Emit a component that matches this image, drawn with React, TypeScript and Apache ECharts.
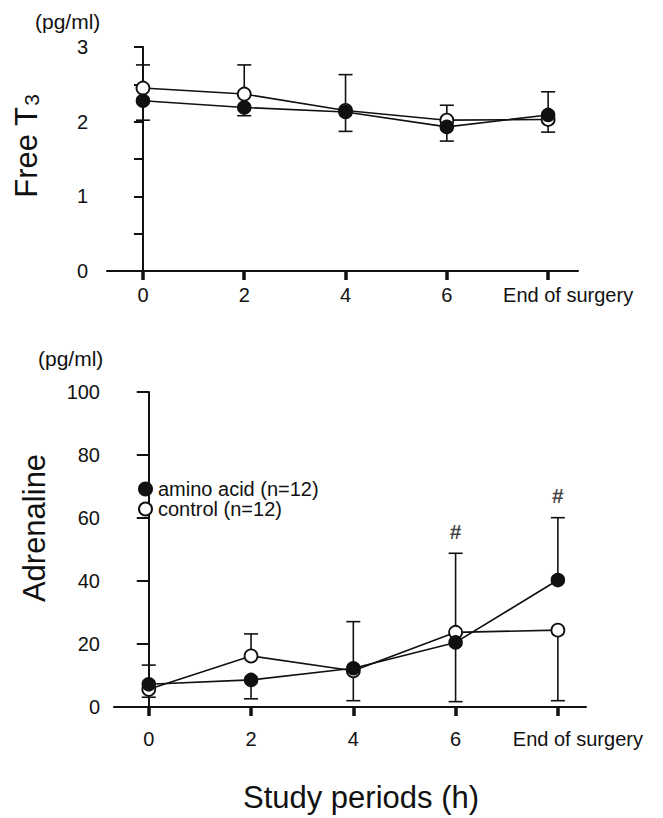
import React, { useEffect, useRef } from "react";
import * as echarts from "echarts";

const FONT = "'Liberation Sans', Arial, Helvetica, sans-serif";
const INK = "#111111";

// time points (h); "End of surgery" sits at position 8
const xPoints = [0, 2, 4, 6, 8];
const xTickLabels = ["0", "2", "4", "6", "End of surgery"];

// Free T3 (pg/ml)
const t3Amino = [2.28, 2.19, 2.13, 1.93, 2.09];
const t3Control = [2.45, 2.37, 2.15, 2.02, 2.03];
const t3AminoWhisker = [2.02, 2.08, 1.87, 1.74, 2.4];
const t3ControlWhisker = [2.76, 2.76, 2.63, 2.22, 1.86];

// Adrenaline (pg/ml)
const adAmino = [7.2, 8.6, 12.3, 20.5, 40.3];
const adControl = [5.6, 16.2, 11.5, 23.7, 24.4];
const adAminoWhisker = [13.3, 2.6, 27.1, 1.7, 60.1];
const adControlWhisker = [3.1, 23.2, 2.0, 48.8, 2.0];
const adSignificant = [false, false, false, true, true];

const AMINO = "amino acid (n=12)";
const CONTROL = "control (n=12)";

function errBars(means: number[], whiskers: number[]) {
  return xPoints.map((x, i) => [x, means[i], whiskers[i]]);
}

function pairs(vals: number[]) {
  return xPoints.map((x, i) => [x, vals[i]]);
}

const renderErr = (params: any, api: any) => {
  const x = api.value(0);
  const p1 = api.coord([x, api.value(1)]);
  const p2 = api.coord([x, api.value(2)]);
  const st = { stroke: INK, lineWidth: 1.6 };
  return {
    type: "group",
    children: [
      { type: "line", shape: { x1: p1[0], y1: p1[1], x2: p2[0], y2: p2[1] }, style: st },
      { type: "line", shape: { x1: p2[0] - 7, y1: p2[1], x2: p2[0] + 7, y2: p2[1] }, style: st },
    ],
  };
};

function xAxisCfg(gridIndex: number, min: number, max: number, margin: number) {
  return {
    type: "value",
    gridIndex,
    min,
    max,
    axisLine: { show: true, onZero: false, lineStyle: { color: INK, width: 2 } },
    axisTick: {
      show: true,
      customValues: xPoints,
      length: 9,
      lineStyle: { color: INK, width: 3.5 },
    },
    axisLabel: {
      customValues: xPoints,
      margin,
      fontSize: 20,
      fontFamily: FONT,
      color: INK,
      formatter: (v: number) => {
        const i = xPoints.indexOf(v);
        const t = i >= 0 ? xTickLabels[i] : "";
        return i === xPoints.length - 1 ? "{end|" + t + "}" : t;
      },
      rich: {
        end: { fontSize: 20, fontFamily: FONT, color: INK, padding: [0, 0, 0, 40] },
      },
    },
    splitLine: { show: false },
  };
}

function lineSeries(name: string, data: number[], idx: number, filled: boolean) {
  return {
    name,
    type: "line",
    xAxisIndex: idx,
    yAxisIndex: idx,
    data: pairs(data),
    symbol: "circle",
    symbolSize: 13,
    z: filled ? 4 : 3,
    lineStyle: { color: INK, width: 1.6 },
    itemStyle: filled
      ? { color: INK, borderColor: INK, borderWidth: 1.5 }
      : { color: "#ffffff", borderColor: INK, borderWidth: 1.8 },
  };
}

function errSeries(means: number[], whiskers: number[], idx: number) {
  return {
    type: "custom",
    xAxisIndex: idx,
    yAxisIndex: idx,
    data: errBars(means, whiskers),
    encode: { x: 0, y: [1, 2] },
    renderItem: renderErr,
    z: 1,
    silent: true,
  };
}

export default function App() {
  const ref = useRef<HTMLDivElement>(null);
  useEffect(() => {
    document.body.style.margin = "0";
    if (!ref.current) return;
    const chart = echarts.init(ref.current, undefined, { renderer: "svg" });

    const sigData = xPoints
      .map((x, i) => [x, Math.max(adAminoWhisker[i], adControlWhisker[i], adAmino[i], adControl[i]), adSignificant[i]])
      .filter((d) => d[2])
      .map((d) => [d[0], d[1]]);

    chart.setOption({
      animation: false,
      backgroundColor: "#ffffff",
      textStyle: { fontFamily: FONT },
      grid: [
        { left: 107, top: 47, width: 471, height: 224 },
        { left: 114, top: 392, width: 472, height: 315 },
      ],
      xAxis: [xAxisCfg(0, -0.71, 8.59, 14), xAxisCfg(1, -0.68, 8.55, 22)],
      yAxis: [
        {
          type: "value",
          gridIndex: 0,
          min: 0,
          max: 3,
          interval: 0.5,
          axisLine: { show: true, lineStyle: { color: INK, width: 2 } },
          axisTick: { show: true, length: 9, lineStyle: { color: INK, width: 2 } },
          axisLabel: {
            margin: 19,
            fontSize: 20,
            fontFamily: FONT,
            color: INK,
            formatter: (v: number) => (Number.isInteger(v) ? String(v) : ""),
          },
          splitLine: { show: false },
        },
        {
          type: "value",
          gridIndex: 1,
          min: 0,
          max: 100,
          interval: 20,
          axisLine: { show: true, lineStyle: { color: INK, width: 2 } },
          axisTick: { show: true, length: 12, lineStyle: { color: INK, width: 2 } },
          axisLabel: { margin: 14, fontSize: 20, fontFamily: FONT, color: INK },
          splitLine: { show: false },
        },
      ],
      legend: {
        orient: "vertical",
        left: 133,
        top: 474,
        icon: "circle",
        itemWidth: 13,
        itemHeight: 13,
        itemGap: 0,
        selectedMode: false,
        data: [AMINO, CONTROL],
        textStyle: { fontSize: 20, fontFamily: FONT, color: INK, padding: [0, 0, 0, 1] },
      },
      graphic: [
        { type: "text", left: 35, top: 11, style: { text: "(pg/ml)", fontSize: 21, fontFamily: FONT, fill: INK } },
        { type: "text", left: 38, top: 348, style: { text: "(pg/ml)", fontSize: 21, fontFamily: FONT, fill: INK } },
        {
          type: "text",
          x: 26,
          y: 146,
          rotation: Math.PI / 2,
          style: {
            text: "{a|Free T}{b|3}",
            align: "center",
            verticalAlign: "middle",
            rich: {
              a: { fontSize: 31, fontFamily: FONT, fill: INK },
              b: { fontSize: 21, fontFamily: FONT, fill: INK, padding: [10, 0, 0, 1] },
            },
          },
        },
        {
          type: "text",
          x: 34,
          y: 528,
          rotation: Math.PI / 2,
          style: { text: "Adrenaline", fontSize: 31, fontFamily: FONT, fill: INK, align: "center", verticalAlign: "middle" },
        },
        {
          type: "text",
          x: 361,
          y: 797,
          style: { text: "Study periods (h)", fontSize: 31, fontFamily: FONT, fill: INK, align: "center", verticalAlign: "middle" },
        },
      ],
      series: [
        errSeries(t3Control, t3ControlWhisker, 0),
        errSeries(t3Amino, t3AminoWhisker, 0),
        lineSeries(CONTROL, t3Control, 0, false),
        lineSeries(AMINO, t3Amino, 0, true),
        errSeries(adControl, adControlWhisker, 1),
        errSeries(adAmino, adAminoWhisker, 1),
        lineSeries(CONTROL, adControl, 1, false),
        lineSeries(AMINO, adAmino, 1, true),
        {
          type: "scatter",
          xAxisIndex: 1,
          yAxisIndex: 1,
          data: sigData,
          symbolSize: 1,
          itemStyle: { color: "rgba(0,0,0,0)" },
          silent: true,
          label: {
            show: true,
            position: "top",
            distance: 11,
            formatter: "#",
            fontSize: 21,
            fontWeight: "bold",
            fontFamily: FONT,
            color: INK,
          },
        },
      ],
    });
    return () => chart.dispose();
  }, []);
  return <div ref={ref} style={{ width: 663, height: 818 }} />;
}
